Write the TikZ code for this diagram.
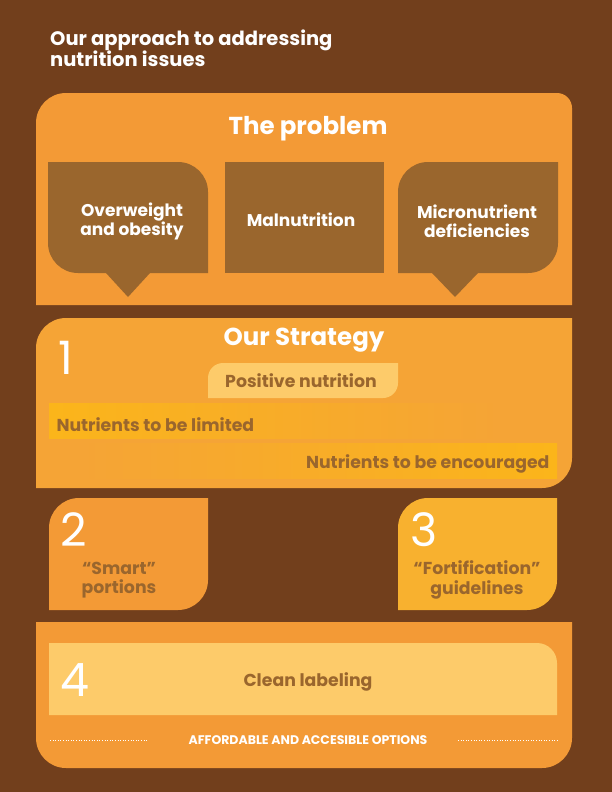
\documentclass[tikz,border=0pt]{standalone}
\usepackage{fontspec}
\setmainfont{Poppins}
\usetikzlibrary{shadings}
\definecolor{bg}{HTML}{723F1C}
\definecolor{orA}{HTML}{F39A36}
\definecolor{orB}{HTML}{F5A436}
\definecolor{brn}{HTML}{9A662D}
\definecolor{pale}{HTML}{FDCB6A}
\definecolor{yel}{HTML}{F8B12F}
\definecolor{gold}{HTML}{FBB51A}
\tikzset{
  txt/.style={font=\bfseries\fontsize{17.3}{19.5}\selectfont, text=brn, align=center},
  wtxt/.style={font=\bfseries\fontsize{17}{19}\selectfont, text=white, align=center},
  head/.style={font=\bfseries\fontsize{24.5}{26}\selectfont, text=white},
  num/.style={font=\fontsize{46}{46}\selectfont, text=white}
}
\begin{document}
\begin{tikzpicture}[x=1pt,y=-1pt]
\fill[bg] (0,0) rectangle (612,792);
\useasboundingbox (0,0) rectangle (612,792);
\node[anchor=north west, font=\bfseries\fontsize{19.5}{21}\selectfont, text=white, align=left, inner sep=0] (title) at (50,30) {Our approach to addressing\\nutrition issues};
% problem box
\fill[orA] (36,305) [rounded corners=30] -- (36,93) [rounded corners=15] -- (572,93) [sharp corners] -- (572,305) -- cycle;
\node[head] (prob) at (308,129) {The problem};
\fill[brn] (48,162) [rounded corners=30] -- (208,162) [sharp corners] -- (208,273) -- (150,273) -- (128,297) -- (106,273) [rounded corners=30] -- (48,273) [sharp corners] -- cycle;
\fill[brn] (225,162) rectangle (384,273);
\fill[brn] (558,162) [rounded corners=30] -- (558,273) [sharp corners] -- (478,273) -- (455,297) -- (432,273) -- (398,273) [rounded corners=30] -- (398,162) [sharp corners] -- cycle;
\node[wtxt] (p1) at (132,221) {Overweight\\and obesity};
\node[wtxt] (p2) at (301,220) {Malnutrition};
\node[wtxt] (p3) at (477,221) {Micronutrient\\deficiencies};
% strategy
\fill[orB] (36,488) [rounded corners=30] -- (36,318) [sharp corners] -- (572,318) [rounded corners=30] -- (572,488) [sharp corners] -- cycle;
\node[head] (strat) at (304,340) {Our Strategy};
\node[num] (n1) at (66,358) {1};
\fill[pale] (208,398) [rounded corners=15] -- (208,363) [sharp corners] -- (398,363) [rounded corners=15] -- (398,398) [sharp corners] -- cycle;
\node[txt] (pos) at (301,381) {Positive nutrition};
\shade[left color=gold, right color=orB] (49,403) rectangle (500,438);
\shade[left color=orB, right color=gold] (80,443) rectangle (557,478);
\node[txt, anchor=west] (lim) at (53,425) {Nutrients to be limited};
\node[txt, anchor=east] (enc) at (553,464) {Nutrients to be encouraged};
% box 2 and 3
\fill[orA] (49,610) [rounded corners=30] -- (49,498) [sharp corners] -- (208,498) [rounded corners=30] -- (208,610) [sharp corners] -- cycle;
\node[num] (n2) at (74,530) {2};
\node[txt] (smart) at (119,580) {``Smart''\\portions};
\fill[yel] (398,610) [rounded corners=30] -- (398,498) [sharp corners] -- (557,498) [rounded corners=30] -- (557,610) [sharp corners] -- cycle;
\node[num] (n3) at (424,530) {3};
\node[txt] (fort) at (477,580) {``Fortification''\\guidelines};
% box 4
\fill[orA] (36,622) -- (572,622) [rounded corners=30] -- (572,768) -- (36,768) [sharp corners] -- cycle;
\fill[pale] (49,715) -- (49,643) [rounded corners=20] -- (557,643) [sharp corners] -- (557,715) -- cycle;
\node[num] (n4) at (75,680) {4};
\node[txt] (clean) at (308,682) {Clean labeling};
\node[font=\bfseries\fontsize{12.5}{14}\selectfont, text=white] (aff) at (308,740) {AFFORDABLE AND ACCESIBLE OPTIONS};
\coordinate (d1) at (50,740); \coordinate (d2) at (148,740);
\coordinate (d3) at (458,740); \coordinate (d4) at (557,740);
\draw[white, dotted, line width=0.6pt] (d1) -- (d2);
\draw[white, dotted, line width=0.6pt] (d3) -- (d4);
\end{tikzpicture}
\end{document}
